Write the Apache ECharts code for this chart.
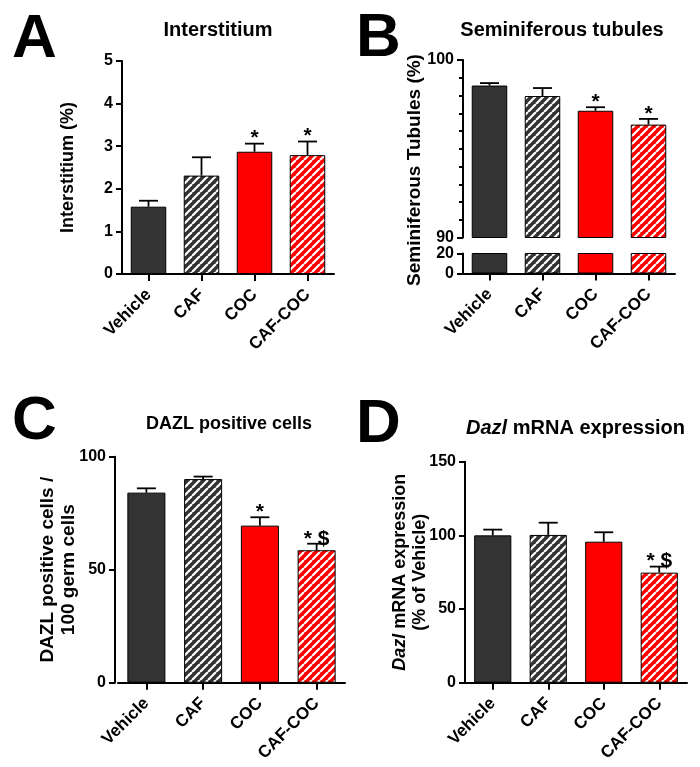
<!DOCTYPE html>
<html>
<head>
<meta charset="utf-8">
<script src="https://cdn.jsdelivr.net/npm/echarts@6/dist/echarts.min.js"></script>
<style>
html,body{margin:0;padding:0;background:#fff;}
#chart{width:700px;height:767px;}
</style>
</head>
<body>
<div id="chart"></div>
<script>
// ---- data ----
const categories = ['Vehicle', 'CAF', 'COC', 'CAF-COC'];
const interstitiumMean = [1.58, 2.31, 2.87, 2.79];
const interstitiumSem  = [0.14, 0.43, 0.19, 0.32];
const tubulesMean = [98.56, 97.97, 97.14, 96.36];
const tubulesSem  = [0.14, 0.45, 0.20, 0.32];
const dazlCellsMean = [84.1, 90.1, 69.5, 58.6];
const dazlCellsSem  = [1.9, 1.1, 3.7, 2.9];
const dazlMrnaMean = [100.0, 100.3, 95.7, 74.7];
const dazlMrnaSem  = [3.9, 8.3, 6.4, 4.1];
const sigA = ['', '', '*', '*'];
const sigB = ['', '', '*', '*'];
const sigC = ['', '', '*', '* $'];
const sigD = ['', '', '', '* $'];
const ticksA = [0, 5, 1];
const ticksBUpper = [90, 100, 10];
const ticksBLower = [0, 20, 20];
const ticksC = [0, 100, 50];
const ticksD = [0, 150, 50];

// ---- styling ----
const FONT = '"Liberation Sans", Arial, sans-serif';
const DARK = '#333333';
const RED = '#ff0000';
function stripes(bg) {
  const s = 8;
  const c = document.createElement('canvas');
  c.width = s; c.height = s;
  const ctx = c.getContext('2d');
  ctx.fillStyle = bg; ctx.fillRect(0, 0, s, s);
  ctx.strokeStyle = '#ffffff'; ctx.lineWidth = 2.2;
  for (let k = -1; k <= 1; k++) {
    ctx.beginPath();
    ctx.moveTo(k * s, s);
    ctx.lineTo(k * s + s, 0);
    ctx.stroke();
  }
  return { image: c, repeat: 'repeat' };
}
const fills = [DARK, stripes(DARK), RED, stripes(RED)];

const chart = echarts.init(document.getElementById('chart'), null, { renderer: 'canvas' });

function barData(vals) {
  return vals.map((v, i) => ({ value: v, itemStyle: { color: fills[i] } }));
}
function errData(mean, sem) {
  return mean.map((m, i) => [i, m, m + sem[i]]);
}
const sigBySeries = { eA: sigA, eB: sigB, eC: sigC, eD: sigD };
function errRender(params, api) {
  const p0 = api.coord([api.value(0), api.value(1)]);
  const p1 = api.coord([api.value(0), api.value(2)]);
  const w = 9.5;
  const sig = sigBySeries[params.seriesName][params.dataIndex];
  const children = [
    { type: 'line', shape: { x1: p0[0], y1: p0[1], x2: p1[0], y2: p1[1] }, style: { stroke: '#000', lineWidth: 1.8 } },
    { type: 'line', shape: { x1: p1[0] - w, y1: p1[1], x2: p1[0] + w, y2: p1[1] }, style: { stroke: '#000', lineWidth: 1.8 } }
  ];
  if (sig) {
    children.push({ type: 'text', style: { text: sig, x: p1[0], y: p1[1] - 5, align: 'center', verticalAlign: 'middle', textAlign: 'center', textVerticalAlign: 'middle', font: 'bold 21px ' + FONT, fill: '#000' } });
  }
  return { type: 'group', children };
}

const axisLineStyle = { show: true, lineStyle: { color: '#000', width: 2 } };
const tickStyle = { show: true, length: 6, lineStyle: { color: '#000', width: 2 } };
const labelStyle = { color: '#000', fontSize: 16, fontWeight: 'bold', fontFamily: FONT };

function xAxis(gridIndex, show) {
  return {
    type: 'category', gridIndex, data: categories, show: show !== false,
    axisLine: { show: true, onZero: false, lineStyle: { color: '#000', width: 2 } },
    axisTick: { show: true, alignWithLabel: true, length: 7, lineStyle: { color: '#000', width: 2 } },
    axisLabel: Object.assign({ rotate: 45, interval: 0, margin: 18 }, labelStyle, { fontSize: 17 }),
    splitLine: { show: false }
  };
}
function yAxis(gridIndex, t, extra) {
  return Object.assign({
    type: 'value', gridIndex, min: t[0], max: t[1], interval: t[2],
    axisLine: axisLineStyle, axisTick: tickStyle,
    axisLabel: Object.assign({ margin: 9 }, labelStyle),
    splitLine: { show: false },
    nameLocation: 'middle',
    nameMoveOverlap: false,
    nameTextStyle: { color: '#000', fontSize: 18, fontWeight: 'bold', fontFamily: FONT }
  }, extra || {});
}

const grids = [
  { left: 122, top: 61, width: 212, height: 213 },
  { left: 463, top: 60, width: 212, height: 177.5 },
  { left: 463, top: 253.5, width: 212, height: 20 },
  { left: 118, top: 456.7, width: 227, height: 226 },
  { left: 465, top: 461.7, width: 222, height: 221 }
].map(g => Object.assign({ containLabel: false, outerBoundsMode: 'none' }, g));

const letterFont = 'bold 62px ' + FONT;
const option = {
  animation: false,
  backgroundColor: '#fff',
  grid: grids,
  xAxis: [xAxis(0), xAxis(1, false), xAxis(2), xAxis(3), xAxis(4)],
  yAxis: [
    yAxis(0, ticksA, { name: 'Interstitium (%)', nameGap: 45 }),
    yAxis(1, ticksBUpper, {
      minorTick: { show: true, splitNumber: 10, length: 4, lineStyle: { color: '#000', width: 2 } }
    }),
    yAxis(2, ticksBLower, {}),
    yAxis(3, ticksC, {
      offset: 3, name: 'DAZL positive cells /\n100 germ cells', nameGap: 36,
      nameTextStyle: { color: '#000', fontSize: 19, fontWeight: 'bold', fontFamily: FONT, lineHeight: 21 }
    }),
    yAxis(4, ticksD, {
      name: '{i|Dazl} mRNA expression\n(% of Vehicle)', nameGap: 35,
      nameTextStyle: {
        color: '#000', fontSize: 18, fontWeight: 'bold', fontFamily: FONT, lineHeight: 20,
        rich: { i: { fontStyle: 'italic', fontWeight: 'bold', fontSize: 18, fontFamily: FONT, color: '#000', lineHeight: 20 } }
      }
    })
  ],
  graphic: [
    { type: 'text', style: { text: 'A', x: 12, y: 40, verticalAlign: 'middle', textVerticalAlign: 'middle', font: letterFont, fill: '#000' } },
    { type: 'text', style: { text: 'B', x: 356, y: 39, verticalAlign: 'middle', textVerticalAlign: 'middle', font: letterFont, fill: '#000' } },
    { type: 'text', style: { text: 'C', x: 12, y: 422, verticalAlign: 'middle', textVerticalAlign: 'middle', font: letterFont, fill: '#000' } },
    { type: 'text', style: { text: 'D', x: 356, y: 425, verticalAlign: 'middle', textVerticalAlign: 'middle', font: letterFont, fill: '#000' } },
    { type: 'text', style: { text: 'Interstitium', x: 218, y: 30, align: 'center', textAlign: 'center', verticalAlign: 'middle', textVerticalAlign: 'middle', font: 'bold 20px ' + FONT, fill: '#000' } },
    { type: 'text', style: { text: 'Seminiferous tubules', x: 562, y: 30, align: 'center', textAlign: 'center', verticalAlign: 'middle', textVerticalAlign: 'middle', font: 'bold 20px ' + FONT, fill: '#000' } },
    { type: 'text', style: { text: 'DAZL positive cells', x: 229, y: 424, align: 'center', textAlign: 'center', verticalAlign: 'middle', textVerticalAlign: 'middle', font: 'bold 18px ' + FONT, fill: '#000' } },
    { type: 'text', style: {
      text: '{i|Dazl} mRNA expression', x: 685, y: 428, align: 'right', textAlign: 'right', verticalAlign: 'middle', textVerticalAlign: 'middle',
      font: 'bold 20px ' + FONT, fill: '#000',
      rich: { i: { fontStyle: 'italic', fontWeight: 'bold', fontSize: 20, fontFamily: FONT, fill: '#000', color: '#000' } }
    } },
    { type: 'text', rotation: Math.PI / 2, x: 415, y: 170, style: { text: 'Seminiferous Tubules (%)', x: 0, y: 0, align: 'center', textAlign: 'center', verticalAlign: 'middle', textVerticalAlign: 'middle', font: 'bold 19px ' + FONT, fill: '#000' } }
  ],
  series: [
    { type: 'bar', xAxisIndex: 0, yAxisIndex: 0, barWidth: '67%', data: barData(interstitiumMean), itemStyle: { borderColor: '#000', borderWidth: 1 } },
    { type: 'custom', name: 'eA', xAxisIndex: 0, yAxisIndex: 0, renderItem: errRender, data: errData(interstitiumMean, interstitiumSem), z: 5 },
    { type: 'bar', xAxisIndex: 1, yAxisIndex: 1, barWidth: '67%', clip: true, data: barData(tubulesMean), itemStyle: { borderColor: '#000', borderWidth: 1 } },
    { type: 'custom', name: 'eB', xAxisIndex: 1, yAxisIndex: 1, renderItem: errRender, data: errData(tubulesMean, tubulesSem), z: 5 },
    { type: 'bar', xAxisIndex: 2, yAxisIndex: 2, barWidth: '67%', clip: true, data: barData(tubulesMean), itemStyle: { borderColor: '#000', borderWidth: 1 } },
    { type: 'bar', xAxisIndex: 3, yAxisIndex: 3, barWidth: '67%', data: barData(dazlCellsMean), itemStyle: { borderColor: '#000', borderWidth: 1 } },
    { type: 'custom', name: 'eC', xAxisIndex: 3, yAxisIndex: 3, renderItem: errRender, data: errData(dazlCellsMean, dazlCellsSem), z: 5 },
    { type: 'bar', xAxisIndex: 4, yAxisIndex: 4, barWidth: '67%', data: barData(dazlMrnaMean), itemStyle: { borderColor: '#000', borderWidth: 1 } },
    { type: 'custom', name: 'eD', xAxisIndex: 4, yAxisIndex: 4, renderItem: errRender, data: errData(dazlMrnaMean, dazlMrnaSem), z: 5 }
  ]
};
chart.setOption(option);
</script>
</body>
</html>
